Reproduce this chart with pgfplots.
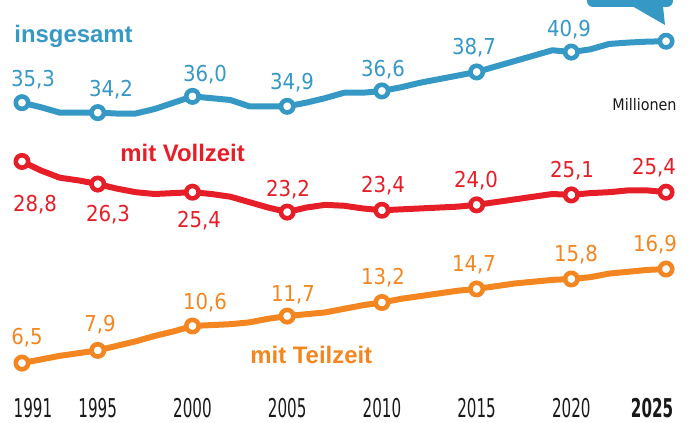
\documentclass[border=0pt]{standalone}
\usepackage{pgfplots}
\usepackage{pgfplotstable}
\pgfplotsset{compat=1.18}
\usepackage{fontspec}
\setmainfont{Liberation Sans}
\newfontfamily\cond{DejaVuSansCondensed}[Extension=.ttf,BoldFont=DejaVuSansCondensed-Bold]
\definecolor{cblue}{HTML}{3698C4}
\definecolor{cred}{HTML}{E61E28}
\definecolor{corange}{HTML}{F38620}
\newcommand\yr[1]{\scalebox{0.65}[1]{#1}}
\newcommand\vfont{\cond\fontsize{11}{12}\selectfont}

\pgfplotstableread{
year tot voll teil
1991 35.3 28.8 6.5
1992 34.8 27.8 6.9
1993 34.2 27.0 7.3
1994 34.2 26.7 7.6
1995 34.2 26.3 7.9
1996 34.1 25.8 8.4
1997 34.1 25.4 8.9
1998 34.6 25.2 9.5
1999 35.3 25.3 10.0
2000 36.0 25.4 10.6
2001 35.8 25.2 10.7
2002 35.6 24.9 10.8
2003 34.9 24.3 11.0
2004 34.9 23.7 11.4
2005 34.9 23.2 11.7
2006 35.3 23.7 11.9
2007 35.8 24.0 12.1
2008 36.4 23.9 12.5
2009 36.4 23.6 12.9
2010 36.6 23.4 13.2
2011 37.0 23.5 13.6
2012 37.5 23.6 13.9
2013 37.9 23.7 14.2
2014 38.3 23.8 14.5
2015 38.7 24.0 14.7
2016 39.3 24.3 15.0
2017 39.9 24.6 15.3
2018 40.5 24.9 15.5
2019 41.1 25.2 15.7
2020 40.9 25.1 15.8
2021 41.2 25.3 16.0
2022 41.8 25.4 16.4
2023 41.95 25.6 16.6
2024 42.05 25.6 16.8
2025 42.1 25.4 16.9
}\data

\begin{document}
\begin{tikzpicture}
\path[use as bounding box] (0,0) rectangle (346bp,211.5bp);
\clip (0,0) rectangle (346bp,211.5bp);
\begin{axis}[
  at={(0,0)}, anchor=south west,
  scale only axis, width=346bp, height=211.5bp,
  xmin=1989.84, xmax=2026.37, ymin=-0.13, ymax=46.66,
  axis x line=bottom, axis y line=none,
  axis line style={draw=none},
  major tick length=0pt, xtick style={draw=none},
  xtick={1991,1995,2000,2005,2010,2015,2020,2025},
  xticklabels={\hspace*{11bp}\yr{1991},\yr{1995},\yr{2000},\yr{2005},\yr{2010},\yr{2015},\yr{2020},\yr{\bfseries 2025}\hspace*{14bp}},
  xticklabel style={anchor=base, yshift=3bp, font=\cond\fontsize{13}{14}\selectfont, text=black!90},
  clip=false,
  every axis plot/.append style={line width=3bp, line join=round, line cap=round,
    mark=*, mark size=3.1bp, mark indices={1,5,10,15,20,25,30,35}},
]
\addplot[color=cblue, mark options={fill=white, line width=2.3bp}] table[x=year,y=tot]{\data};
\addplot[color=cred, mark options={fill=white, line width=2.3bp}] table[x=year,y=voll]{\data};
\addplot[color=corange, mark options={fill=white, line width=2.3bp}] table[x=year,y=teil]{\data};
\end{axis}
\begin{scope}[x=0.5bp,y=-0.5bp,yshift=211.5bp]
  % callout (cut off at top)
  \fill[cblue, rounded corners=3bp] (587,-30) rectangle (673,7);
  \fill[cblue] (632,6) -- (663,6) -- (665,25) -- cycle;
  % series names
  \node[anchor=base west, inner sep=0, text=cblue, font=\bfseries\fontsize{12}{14}\selectfont] at (14,43) {insgesamt};
  \node[anchor=base west, inner sep=0, text=cred, font=\bfseries\fontsize{12}{14}\selectfont] at (120,162) {mit Vollzeit};
  \node[anchor=base west, inner sep=0, text=corange, font=\bfseries\fontsize{12}{14}\selectfont] at (250,364) {mit Teilzeit};
  \node[anchor=base east, inner sep=0, text=black!90, font=\cond\fontsize{8}{9}\selectfont] at (677,111) {Millionen};
  % blue values
  \foreach \x/\y/\t in {33/87/{35,3},111/97/{34,2},205/82/{36,0},292/90/{34,9},383/77/{36,6},474/55/{38,7},569/37/{40,9}}
    \node[anchor=base, inner sep=0, text=cblue, font=\vfont] at (\x,\y) {\t};
  % red values
  \foreach \x/\y/\t in {35/212/{28,8},108/222/{26,3},199/228/{25,4},288/197/{23,2},383/193/{23,4},476/188/{24,0},572/178/{25,1},654/175/{25,4}}
    \node[anchor=base, inner sep=0, text=cred, font=\vfont] at (\x,\y) {\t};
  % orange values
  \foreach \x/\y/\t in {27/345/{6,5},100/332/{7,9},205/310/{10,6},293/302/{11,7},383/285/{13,2},474/272/{14,7},576/262/{15,8},655/252/{16,9}}
    \node[anchor=base, inner sep=0, text=corange, font=\vfont] at (\x,\y) {\t};
\end{scope}
\end{tikzpicture}
\end{document}
